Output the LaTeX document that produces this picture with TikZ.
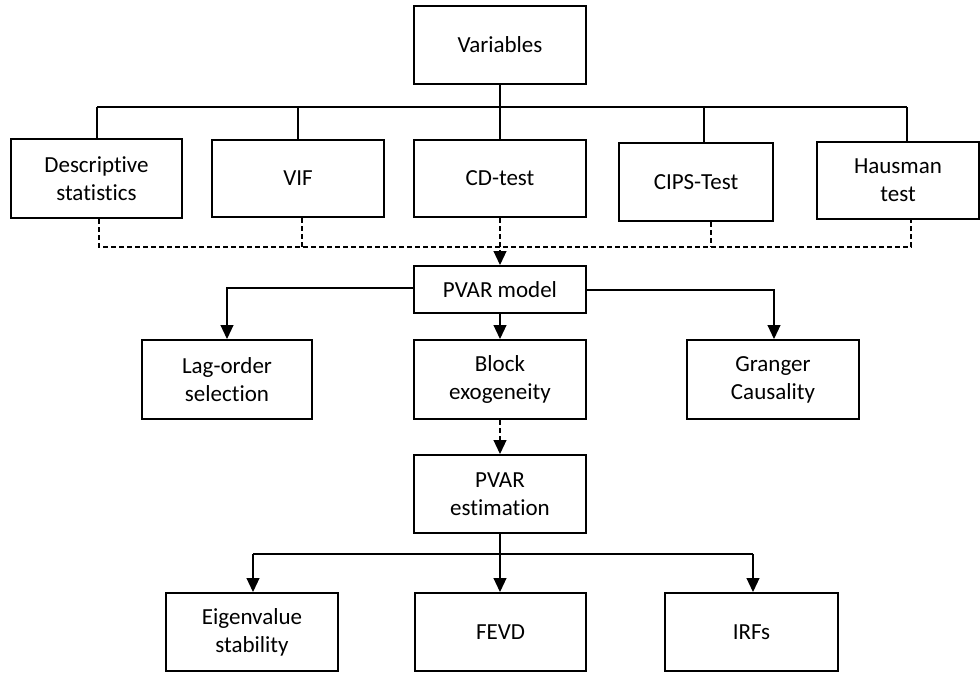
\documentclass[tikz,border=0pt]{standalone}
\usepackage{fontspec}
\setmainfont{Carlito}[RawFeature=-liga]
\usetikzlibrary{arrows.meta}
\begin{document}
\begin{tikzpicture}[x=1pt,y=-1pt,
  box/.style={draw, line width=2pt, align=center, inner sep=0pt,
    font=\fontsize{23}{28}\selectfont, minimum height=78pt},
  conn/.style={line width=1.1pt},
  dconn/.style={line width=1.1pt, dash pattern=on 5pt off 3pt},
  tip/.style={-{Triangle[length=14pt,width=13pt]}}
]
\useasboundingbox (0,0) rectangle (980,673);
% nodes
\node[box, minimum width=172pt] (var) at (500,45) {Variables};
\node[box, minimum width=171pt, minimum height=79pt] (desc) at (96.5,178.5) {Descriptive\\statistics};
\node[box, minimum width=172pt, minimum height=77pt] (vif) at (298,178.5) {VIF};
\node[box, minimum width=172pt, minimum height=77pt] (cd) at (500,178.5) {CD-test};
\node[box, minimum width=154pt] (cips) at (696,182) {CIPS-Test};
\node[box, minimum width=162pt, minimum height=77pt] (haus) at (898,180.5) {Hausman\\test};
\node[box, minimum width=172pt, minimum height=47pt] (pvar) at (500,289.5) {PVAR model};
\node[box, minimum width=170pt, minimum height=79pt] (lag) at (227,379.5) {Lag-order\\selection};
\node[box, minimum width=172pt, minimum height=79pt] (block) at (500,379.5) {Block\\exogeneity};
\node[box, minimum width=172pt, minimum height=79pt] (gran) at (773,379.5) {Granger\\Causality};
\node[box, minimum width=172pt] (est) at (500,494) {PVAR\\estimation};
\node[box, minimum width=172pt] (eig) at (252,632) {Eigenvalue\\stability};
\node[box, minimum width=171pt] (fevd) at (500.5,632) {FEVD};
\node[box, minimum width=173pt] (irf) at (751.5,632) {IRFs};
% coordinates
\coordinate (tbar) at (500,107);
\coordinate (dbar) at (500,247);
\coordinate (bbar) at (500,554);
% top tree
\draw[conn] (var.south) -- (tbar);
\draw[conn] (97,107) -- (907,107);
\draw[conn] (97,107) -- (97,0 |- desc.north);
\draw[conn] (298,107) -- (298,0 |- vif.north);
\draw[conn] (tbar) -- (cd.north);
\draw[conn] (704,107) -- (704,0 |- cips.north);
\draw[conn] (907,107) -- (907,0 |- haus.north);
% dashed gather
\draw[dconn] (99,0 |- desc.south) -- (99,247) -- (911,247) -- (911,0 |- haus.south);
\draw[dconn] (302,0 |- vif.south) -- (302,247);
\draw[dconn] (711,0 |- cips.south) -- (711,247);
\draw[dconn,tip] (cd.south) -- (pvar.north);
% PVAR model branches
\draw[conn,tip] (pvar.west |- 0,288) -- (227,288) -- (lag.north);
\draw[conn,tip] (pvar.east |- 0,290) -- (774,290) -- (774,0 |- gran.north);
\draw[conn,tip] (pvar.south) -- (block.north);
\draw[dconn,tip] (block.south) -- (est.north);
% bottom tree
\draw[conn] (est.south) -- (bbar);
\draw[conn,tip] (253,554) -- (253,0 |- eig.north);
\draw[conn] (253,554) -- (753,554);
\draw[conn,tip] (bbar) -- (500,0 |- fevd.north);
\draw[conn,tip] (753,554) -- (753,0 |- irf.north);
\end{tikzpicture}
\end{document}
